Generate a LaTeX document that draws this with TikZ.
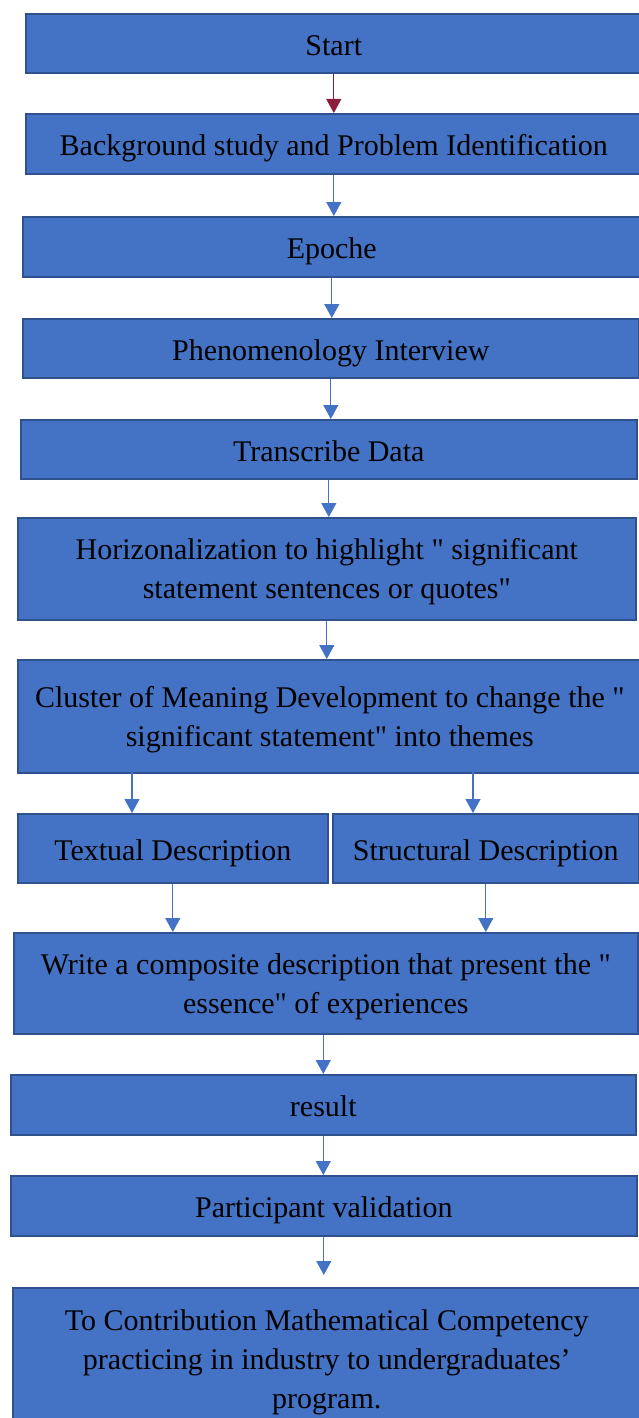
\documentclass[tikz,border=0pt]{standalone}
\usepackage{fontspec}
\setmainfont{Liberation Serif}[Ligatures=TeXOff]
\usepackage{tikz}
\usetikzlibrary{
  arrows.meta,
  positioning,
  calc
}
\definecolor{boxcolor}{RGB}{68, 114, 196}
\definecolor{bordercolor}{RGB}{47, 82, 143}
\definecolor{arrowcolor}{RGB}{68, 114, 196}
\definecolor{startarrowcolor}{RGB}{140, 30, 60}

\begin{document}
\begin{tikzpicture}[
      x=1pt, y=-1pt,
      stepbox/.style={
        rectangle, anchor=north west,
        fill=boxcolor, draw=bordercolor, line width=1.6pt,
        align=center, font=\fontsize{30}{39}\selectfont,
        text=black, inner sep=0pt
      },
      oneline/.style={stepbox, text height=24pt, text depth=0pt},
      twoline/.style={stepbox, text depth=0pt},
      arr/.style={-{Triangle[length=14pt,width=15pt]}, line width=1.2pt, draw=arrowcolor},
    ]
      \useasboundingbox (0,0) rectangle (639,1418);

      % Main column (top to bottom)
      \node[oneline, minimum width=616pt, minimum height=59pt] (start) at (25,13) {Start};
      \node[oneline, minimum width=616pt, minimum height=60pt] (bg) at (25,113) {Background study and Problem Identification};
      \node[oneline, minimum width=618pt, minimum height=60pt] (epo) at (22,216) {Epoche};
      \node[oneline, minimum width=616pt, minimum height=59pt] (phe) at (22,318) {Phenomenology Interview};
      \node[oneline, minimum width=616pt, minimum height=59pt] (tra) at (20,419) {Transcribe Data};
      \node[twoline, minimum width=618pt, minimum height=102pt] (hor) at (17,517)
        {Horizonalization to highlight " significant\\statement sentences or quotes"};
      \node[twoline, minimum width=624pt, minimum height=113pt] (clu) at (17,659)
        {Cluster of Meaning Development to change the "\\significant statement" into themes};

      % Two descriptions side by side
      \node[oneline, minimum width=310pt, minimum height=69pt] (tex) at (17,813) {Textual Description};
      \node[oneline, minimum width=306pt, minimum height=69pt] (str) at (332,813) {Structural Description};

      \node[twoline, minimum width=624pt, minimum height=101pt] (wri) at (13,932)
        {Write a composite description that present the "\\essence" of experiences};
      \node[oneline, minimum width=625pt, minimum height=60pt] (res) at (10,1074) {result};
      \node[oneline, minimum width=626pt, minimum height=60pt] (par) at (10,1175) {Participant validation};
      \node[stepbox, minimum width=628pt, minimum height=150pt, text depth=8pt] (fin) at (12,1287)
        {To Contribution Mathematical Competency\\practicing in industry to undergraduates’\\program.};

      % Split points under the cluster box
      \coordinate (cl1) at (132,772);
      \coordinate (cl2) at (473,772);

      % Arrows
      \draw[arr, draw=startarrowcolor] (start.south) -- (start.south |- bg.north);
      \draw[arr] (bg.south) -- (bg.south |- epo.north);
      \draw[arr] (epo.south) -- (epo.south |- phe.north);
      \draw[arr] (phe.south) -- (phe.south |- tra.north);
      \draw[arr] (tra.south) -- (tra.south |- hor.north);
      \draw[arr] (hor.south) -- (hor.south |- clu.north);
      \draw[arr] (cl1) -- (cl1 |- tex.north);
      \draw[arr] (cl2) -- (cl2 |- str.north);
      \draw[arr] (tex.south) -- (tex.south |- wri.north);
      \draw[arr] (str.south) -- (str.south |- wri.north);
      \draw[arr] (res.north |- wri.south) -- (res.north);
      \draw[arr] (res.south) -- (res.south |- par.north);
      \draw[arr, shorten >=12pt] (par.south) -- (par.south |- fin.north);
    \end{tikzpicture}
\end{document}
